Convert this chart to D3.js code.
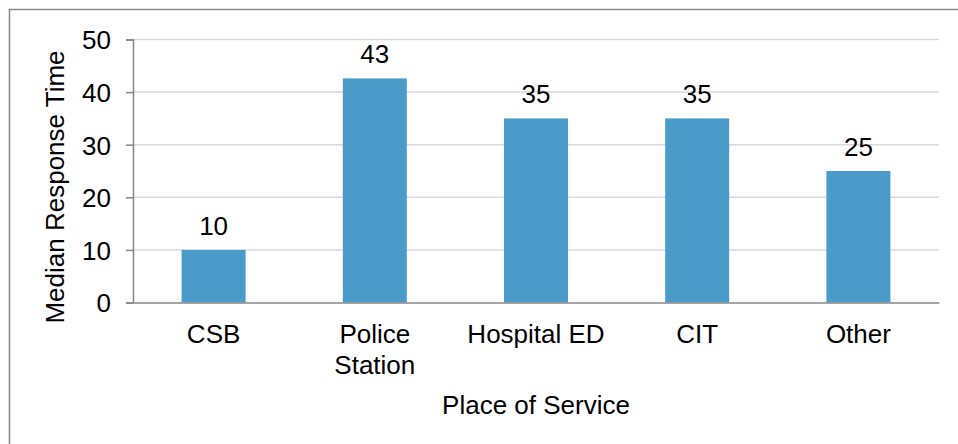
<!DOCTYPE html>
<meta charset="utf-8">
<style>
body { margin: 0; background: #fff; overflow: hidden; }
text { font-family: "Liberation Sans", Arial, sans-serif; fill: #000; }
</style>
<body>
<script src="https://d3js.org/d3.v7.min.js"></script>
<script>

    // chart data
    var categories = ["CSB", "Police Station", "Hospital ED", "CIT", "Other"];
    var values = [10, 42.6, 35, 35, 25];
    var valueLabels = ["10", "43", "35", "35", "25"];
    var yTicks = [0, 10, 20, 30, 40, 50];

    var W = 958, H = 444;
    var margin = {top: 39.5, right: 19, bottom: 141.5, left: 133},
        width = W - margin.left - margin.right,
        height = H - margin.top - margin.bottom;
    var fs = "26px";

    var svg = d3.select("body").append("svg")
        .attr("width", W)
        .attr("height", H);

    // outer frame (runs off the right and bottom edge)
    svg.append("rect")
        .attr("x", 9.5).attr("y", 9.5)
        .attr("width", 980).attr("height", 460)
        .attr("fill", "none")
        .attr("stroke", "#878787")
        .attr("stroke-width", 1.5);

    var g = svg.append("g")
        .attr("transform", "translate(" + margin.left + "," + margin.top + ")");

    var xb = d3.scaleBand().domain(categories).range([0, width]);
    var y = d3.scaleLinear().domain([0, 50]).range([height, 0]);

    // gridlines
    g.selectAll(".grid")
        .data(yTicks.filter(function (d) { return d > 0; }))
        .enter().append("line")
        .attr("x1", 0).attr("x2", width)
        .attr("y1", function (d) { return y(d); })
        .attr("y2", function (d) { return y(d); })
        .attr("stroke", "#d9d9d9")
        .attr("stroke-width", 1.5);

    // bars
    g.selectAll(".bar")
        .data(values)
        .enter().append("rect")
        .attr("x", function (d, i) { return xb(categories[i]) + xb.bandwidth() / 2 - 32; })
        .attr("width", 64)
        .attr("y", function (d) { return y(d); })
        .attr("height", function (d) { return height - y(d); })
        .attr("fill", "#4a9bca");

    // value labels
    g.selectAll(".vlabel")
        .data(values)
        .enter().append("text")
        .attr("x", function (d, i) { return xb(categories[i]) + xb.bandwidth() / 2; })
        .attr("y", function (d) { return y(d) - 15; })
        .attr("text-anchor", "middle")
        .style("font-size", fs)
        .text(function (d, i) { return valueLabels[i]; });

    // y axis
    var yAxis = g.append("g")
        .call(d3.axisLeft(y).tickValues(yTicks).tickSize(7).tickPadding(15));
    yAxis.selectAll("text").style("font-size", fs).attr("dy", "0.36em");

    // x axis
    var xAxis = g.append("g")
        .attr("transform", "translate(0," + height + ")")
        .call(d3.axisBottom(xb).tickSize(0).tickFormat(""));
    xAxis.selectAll(".tick").remove();

    var xEdges = categories.map(function (c) { return xb(c); }).concat([width]);
    xAxis.selectAll(".edge")
        .data(xEdges)
        .enter().append("line")
        .attr("x1", function (d) { return d; }).attr("x2", function (d) { return d; })
        .attr("y1", 0).attr("y2", 7);

    g.selectAll(".domain, .tick line, .edge")
        .attr("stroke", "#868686")
        .attr("stroke-width", 1.5);

    // category labels (wrap Police Station)
    var catLines = {"Police Station": ["Police", "Station"]};
    g.selectAll(".xlabel")
        .data(categories)
        .enter().append("text")
        .attr("text-anchor", "middle")
        .style("font-size", fs)
        .attr("transform", function (d) {
            return "translate(" + (xb(d) + xb.bandwidth() / 2) + "," + (height + 40) + ")";
        })
        .each(function (d) {
            var lines = catLines[d] || [d];
            var t = d3.select(this);
            lines.forEach(function (l, i) {
                t.append("tspan").attr("x", 0).attr("y", i * 31).text(l);
            });
        });

    // axis titles
    g.append("text")
        .attr("text-anchor", "middle")
        .attr("transform", "translate(" + (width / 2) + "," + (height + 111) + ")")
        .style("font-size", fs)
        .text("Place of Service");

    g.append("text")
        .attr("text-anchor", "middle")
        .attr("transform", "translate(-69," + (height / 2 + 16) + ") rotate(-90)")
        .style("font-size", fs)
        .text("Median Response Time");

</script>
</body>
